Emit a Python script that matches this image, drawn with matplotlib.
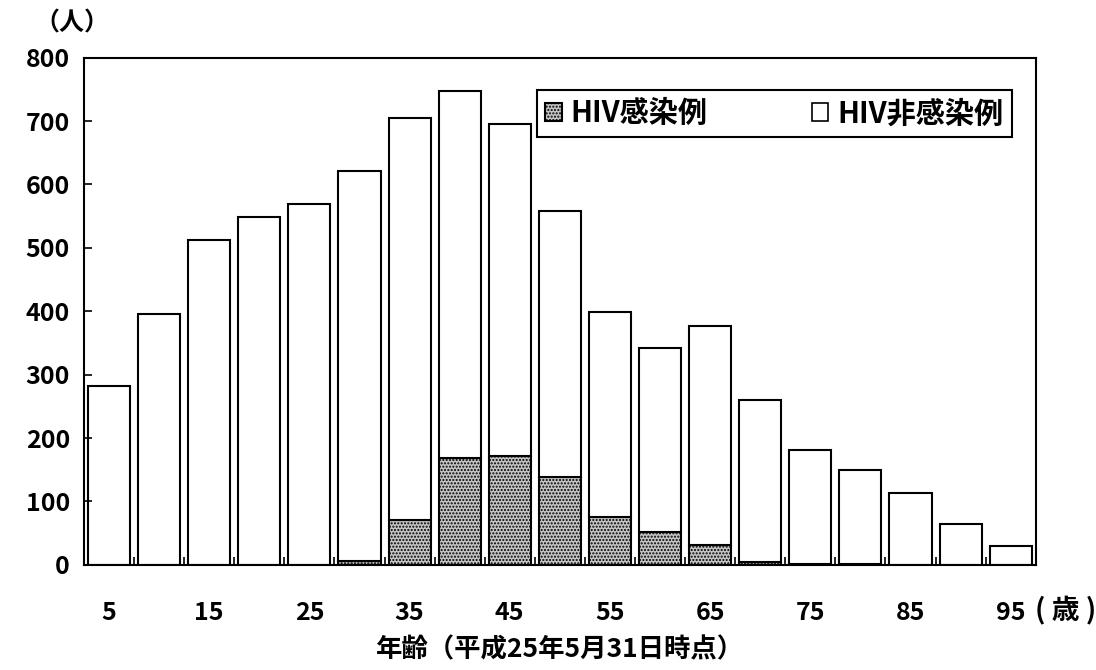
'''Stacked bar chart: HIV infected / non-infected cases by age.'''
import numpy as np
import matplotlib.pyplot as plt
from matplotlib.patches import Patch

plt.rcParams['font.family'] = ['Noto Sans CJK JP', 'DejaVu Sans']
plt.rcParams['font.weight'] = 'bold'
plt.rcParams['axes.labelweight'] = 'bold'
plt.rcParams['hatch.linewidth'] = 1.0

# Data
AGES = [5, 10, 15, 20, 25, 30, 35, 40, 45, 50, 55, 60, 65, 70, 75, 80, 85, 90, 95]
TOTAL = [282, 396, 513, 549, 569, 621, 705, 747, 696, 558, 398, 342, 377, 260, 181, 149, 113, 64, 29]
HIV_POS = [0, 0, 0, 0, 0, 6, 70, 168, 172, 139, 76, 51, 31, 5, 2, 2, 0, 0, 0]
HIV_NEG = [t - p for t, p in zip(TOTAL, HIV_POS)]

LABEL_POS = 'HIV感染例'
LABEL_NEG = 'HIV非感染例'

xx = np.arange(len(AGES))

fig = plt.figure(figsize=(10.96, 6.70), dpi=100)
ax = fig.add_axes([0.0766, 0.157, 0.8684, 0.757])

hatch_kw = dict(facecolor='#c4c4c4', edgecolor='black', hatch='.....', linewidth=1.5)
ax.bar(xx, HIV_POS, width=0.84, **hatch_kw)
ax.bar(xx, HIV_NEG, width=0.84, bottom=HIV_POS, facecolor='white', edgecolor='black', linewidth=1.5)

ax.set_xlim(-0.5, len(AGES) - 0.5)
ax.set_ylim(0, 800)

ax.set_yticks(np.arange(0, 801, 100))
ax.tick_params(axis='y', direction='in', length=6, width=1.2, labelsize=18, pad=10)

# labels every other category, boundary ticks between bars
ax.set_xticks(xx[::2])
ax.set_xticklabels([str(a) for a in AGES[::2]])
ax.set_xticks(xx[:-1] + 0.5, minor=True)
ax.tick_params(axis='x', which='major', length=0, labelsize=18, pad=26)
ax.tick_params(axis='x', which='minor', direction='in', length=6, width=1.2)

for spine in ax.spines.values():
    spine.set_linewidth(1.5)
    spine.set_color('black')

ax.set_xlabel('年齢（平成25年5月31日時点）', fontsize=19, labelpad=8)
fig.text(0.066, 0.965, '（人）', fontsize=18, ha='center', va='center')
fig.text(0.972, 0.089, '( 歳 )', fontsize=20, ha='center', va='center')

handles = [Patch(**hatch_kw), Patch(facecolor='white', edgecolor='black', linewidth=1.2)]
leg = ax.legend(handles, [LABEL_POS, LABEL_NEG], ncol=2, loc='upper right',
                bbox_to_anchor=(0.975, 0.937), fontsize=21, frameon=True, fancybox=False,
                edgecolor='black', framealpha=1, handlelength=0.55, handleheight=0.55,
                handletextpad=0.3, columnspacing=3.6, borderpad=0.3, borderaxespad=0)
leg.get_frame().set_linewidth(1.5)

plt.savefig('out.png', dpi=100)
plt.close()
